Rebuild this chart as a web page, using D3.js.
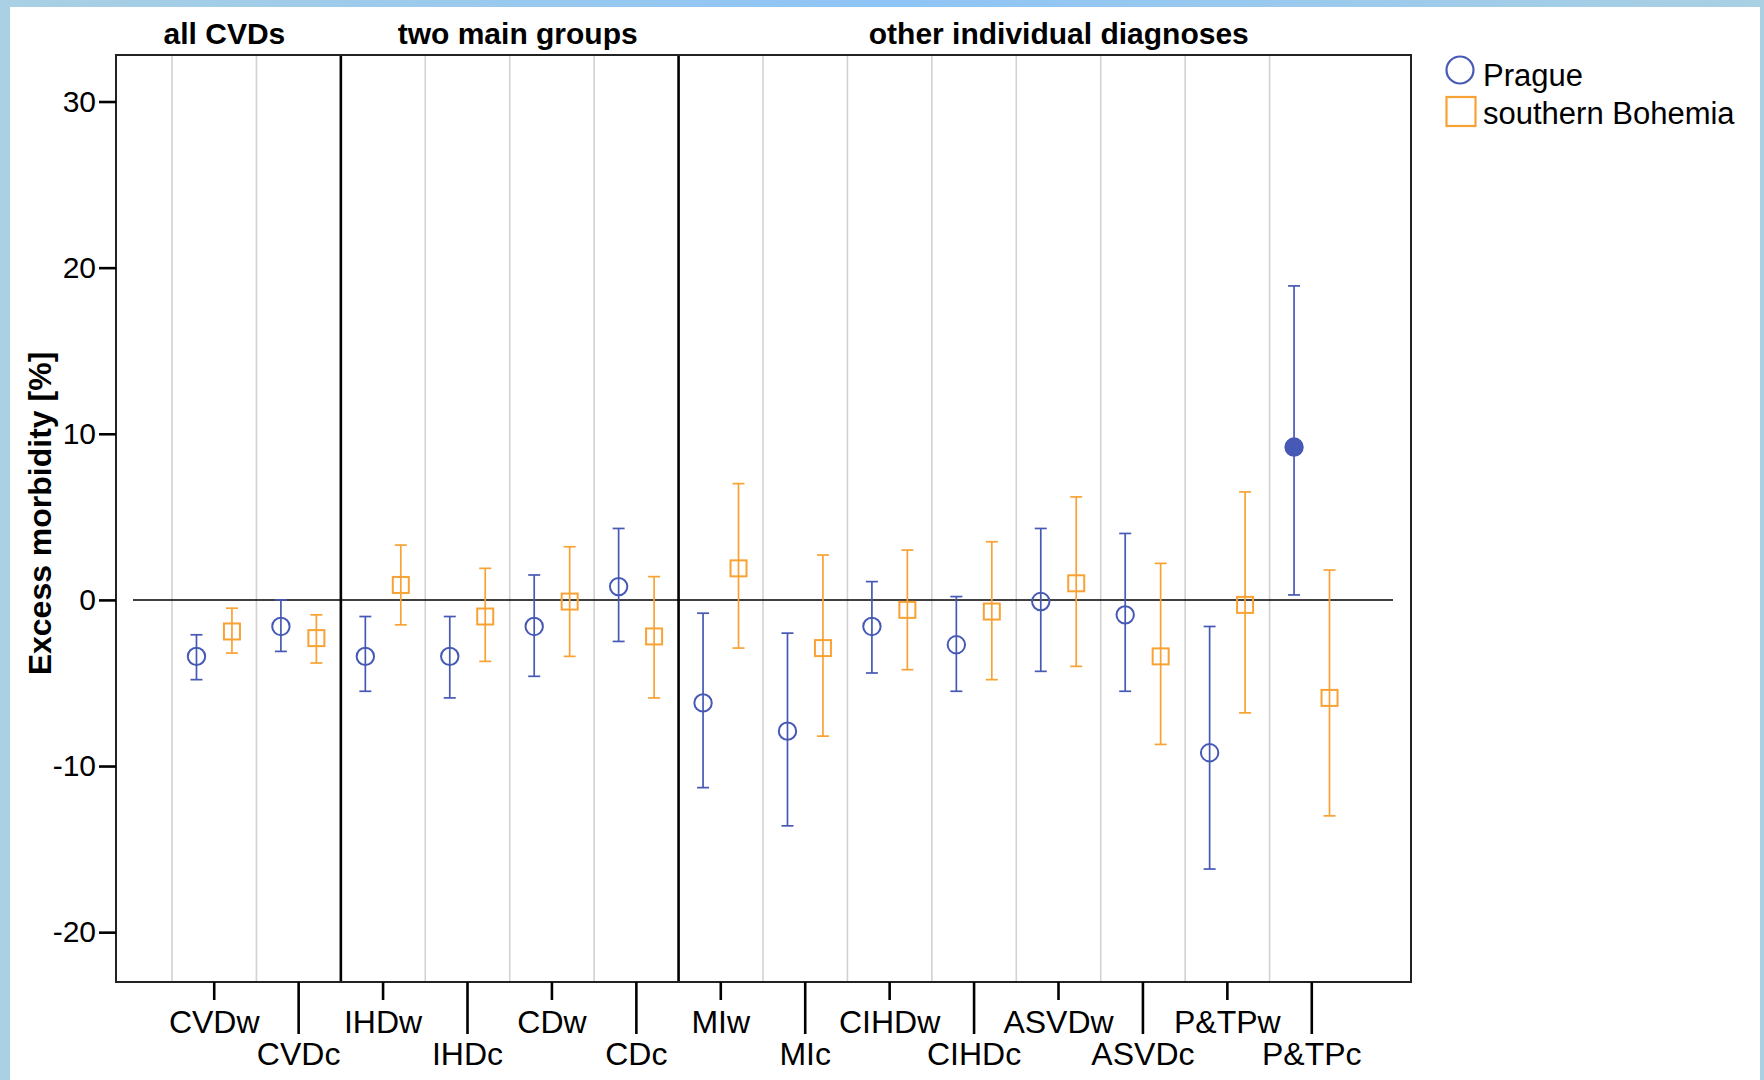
<!DOCTYPE html>
<html>
<head>
<meta charset="utf-8">
<script src="https://cdn.jsdelivr.net/npm/d3@7"></script>
<style>
  body { margin: 0; background: #fff; }
  text { font-family: "Liberation Sans", Arial, sans-serif; fill: #000; }
</style>
</head>
<body>
<svg id="viz"></svg>
<script>
// page size
var width = 1764,
    height = 1080;

// categories along the x axis (w = warm half-year, c = cold half-year)
var categories = ["CVDw", "CVDc", "IHDw", "IHDc", "CDw", "CDc", "MIw", "MIc",
                  "CIHDw", "CIHDc", "ASVDw", "ASVDc", "P&TPw", "P&TPc"];

// panel titles and how many categories each one holds
var groupTitles = ["all CVDs", "two main groups", "other individual diagnoses"];
var groupSizes = [2, 4, 8];

// Prague: excess morbidity [%] and 95% interval
var pragueMean = [-3.4, -1.6, -3.4, -3.4, -1.6, 0.8, -6.2, -7.9, -1.6, -2.7, -0.1, -0.9, -9.2, 9.2];
var pragueLow  = [-4.8, -3.1, -5.5, -5.9, -4.6, -2.5, -11.3, -13.6, -4.4, -5.5, -4.3, -5.5, -16.2, 0.3];
var pragueHigh = [-2.1, 0.0, -1.0, -1.0, 1.5, 4.3, -0.8, -2.0, 1.1, 0.2, 4.3, 4.0, -1.6, 18.9];
var pragueSignificant = [false, false, false, false, false, false, false, false,
                         false, false, false, false, false, true];

// southern Bohemia: excess morbidity [%] and 95% interval
var bohemiaMean = [-1.9, -2.3, 0.9, -1.0, -0.1, -2.2, 1.9, -2.9, -0.6, -0.7, 1.0, -3.4, -0.3, -5.9];
var bohemiaLow  = [-3.2, -3.8, -1.5, -3.7, -3.4, -5.9, -2.9, -8.2, -4.2, -4.8, -4.0, -8.7, -6.8, -13.0];
var bohemiaHigh = [-0.5, -0.9, 3.3, 1.9, 3.2, 1.4, 7.0, 2.7, 3.0, 3.5, 6.2, 2.2, 6.5, 1.8];

var yTicks = [-20, -10, 0, 10, 20, 30];
var seriesNames = ["Prague", "southern Bohemia"];

var pragueColor = "#4659b4",
    bohemiaColor = "#f9a234";

// plot frame
var margin = {left: 116, top: 55, right: 353, bottom: 98};
var plotW = width - margin.left - margin.right,
    plotH = height - margin.top - margin.bottom;

var svg = d3.select("#viz").attr("width", width).attr("height", height);

// light blue window frame
var defs = svg.append("defs");
var grad = defs.append("linearGradient").attr("id", "frame");
grad.append("stop").attr("offset", "0%").attr("stop-color", "#a9d0e3");
grad.append("stop").attr("offset", "50%").attr("stop-color", "#8ec4f6");
grad.append("stop").attr("offset", "100%").attr("stop-color", "#a9d0e3");
svg.append("rect").attr("width", width).attr("height", height).attr("fill", "url(#frame)");
svg.append("rect").attr("x", 10).attr("y", 7).attr("width", width - 14).attr("height", height - 7).attr("fill", "#fff");

var g = svg.append("g").attr("transform", "translate(" + margin.left + "," + margin.top + ")");

// scales
var x = d3.scaleBand().domain(categories).range([56, plotW - 57]).padding(0);
var y = d3.scaleLinear().domain([-23, 32.8]).range([plotH, 0]);
var bw = x.bandwidth();
var shift = bw * 0.21;

// group boundaries (index of the first category of each group)
var starts = [0];
groupSizes.forEach(function(s, i) { starts.push(starts[i] + s); });

// gray gridlines at every category boundary
var boundaries = d3.range(categories.length + 1).map(function(i) {
    return i < categories.length ? x(categories[i]) : x(categories[i - 1]) + bw;
});
g.append("g").selectAll("line")
    .data(boundaries.filter(function(d, i) { return starts.indexOf(i) < 0 || i == 0; }))
    .enter().append("line")
    .attr("x1", function(d) { return d; }).attr("x2", function(d) { return d; })
    .attr("y1", 0).attr("y2", plotH)
    .attr("stroke", "#d2d2d2").attr("stroke-width", 1.6);

// black group dividers
var dividers = starts.slice(1, starts.length - 1).map(function(i) { return x(categories[i]); });
g.append("g").selectAll("line")
    .data(dividers)
    .enter().append("line")
    .attr("x1", function(d) { return d; }).attr("x2", function(d) { return d; })
    .attr("y1", 0).attr("y2", plotH)
    .attr("stroke", "#000").attr("stroke-width", 2.6);

// zero reference line
g.append("line")
    .attr("x1", 17).attr("x2", plotW - 18)
    .attr("y1", y(0)).attr("y2", y(0))
    .attr("stroke", "#000").attr("stroke-width", 1.5);

// plot border
g.append("rect")
    .attr("width", plotW).attr("height", plotH)
    .attr("fill", "none").attr("stroke", "#222").attr("stroke-width", 2);

// group titles (small nudges to sit where the original puts them)
var groupX = [0].concat(dividers).concat([plotW]);
var titleNudge = [-4, 8, 14];
g.append("g").selectAll("text")
    .data(groupTitles)
    .enter().append("text")
    .attr("x", function(d, i) { return (groupX[i] + groupX[i + 1]) / 2 + titleNudge[i]; })
    .attr("y", -11)
    .attr("text-anchor", "middle")
    .style("font-size", "30px")
    .style("font-weight", "bold")
    .text(function(d) { return d; });

// y axis
var yAxis = g.append("g")
    .call(d3.axisLeft(y).tickValues(yTicks).tickSize(17).tickPadding(3)
        .tickFormat(function(d) { return String(d); }));
yAxis.select(".domain").remove();
yAxis.selectAll(".tick line").attr("stroke", "#000").attr("stroke-width", 2.6);
yAxis.selectAll(".tick text").style("font-size", "30px").attr("font-family", null);

// y axis title
svg.append("text")
    .attr("transform", "translate(51," + (margin.top + y(5.2)) + ") rotate(-90)")
    .attr("text-anchor", "middle")
    .style("font-size", "32px")
    .style("font-weight", "bold")
    .text("Excess morbidity [%]");

// x axis: ticks alternate short (w) and long (c)
var xAxis = g.append("g")
    .attr("transform", "translate(0," + plotH + ")")
    .call(d3.axisBottom(x).tickSizeOuter(0));
xAxis.select(".domain").remove();
xAxis.selectAll(".tick line")
    .attr("stroke", "#000").attr("stroke-width", 2.6)
    .attr("y2", function(d, i) { return i % 2 == 0 ? 18 : 52; });
xAxis.selectAll(".tick text")
    .attr("font-family", null)
    .style("font-size", "32px")
    .attr("dy", null)
    .attr("y", function(d, i) { return i % 2 == 0 ? 51 : 83; });

// error bars + markers
function drawSeries(mean, low, high, color, offset, shape, filled) {
    var s = g.append("g");
    var items = categories.map(function(c, i) {
        return {c: c, m: mean[i], lo: low[i], hi: high[i], f: filled ? filled[i] : false};
    });
    var cx = function(d) { return x(d.c) + bw / 2 + offset; };
    s.selectAll("line.bar").data(items).enter().append("line")
        .attr("class", "bar")
        .attr("x1", cx).attr("x2", cx)
        .attr("y1", function(d) { return y(d.lo); })
        .attr("y2", function(d) { return y(d.hi); })
        .attr("stroke", color).attr("stroke-width", 1.7);
    ["lo", "hi"].forEach(function(k) {
        s.selectAll("line.cap" + k).data(items).enter().append("line")
            .attr("class", "cap" + k)
            .attr("x1", function(d) { return cx(d) - 6; })
            .attr("x2", function(d) { return cx(d) + 6; })
            .attr("y1", function(d) { return y(d[k]); })
            .attr("y2", function(d) { return y(d[k]); })
            .attr("stroke", color).attr("stroke-width", 1.7);
    });
    if (shape == "circle") {
        s.selectAll("circle").data(items).enter().append("circle")
            .attr("cx", cx).attr("cy", function(d) { return y(d.m); })
            .attr("r", 8.7)
            .attr("fill", function(d) { return d.f ? color : "#fff"; })
            .attr("fill-opacity", function(d) { return d.f ? 1 : 0; })
            .attr("stroke", color).attr("stroke-width", 2);
    } else {
        s.selectAll("rect").data(items).enter().append("rect")
            .attr("x", function(d) { return cx(d) - 8; })
            .attr("y", function(d) { return y(d.m) - 8; })
            .attr("width", 16).attr("height", 16)
            .attr("fill", "none")
            .attr("stroke", color).attr("stroke-width", 2);
    }
}
drawSeries(pragueMean, pragueLow, pragueHigh, pragueColor, -shift, "circle", pragueSignificant);
drawSeries(bohemiaMean, bohemiaLow, bohemiaHigh, bohemiaColor, shift, "square", null);

// legend
var legend = svg.append("g").attr("transform", "translate(1446,54)");
legend.append("circle")
    .attr("cx", 14).attr("cy", 16).attr("r", 13.5)
    .attr("fill", "none").attr("stroke", pragueColor).attr("stroke-width", 2.2);
legend.append("rect")
    .attr("x", 0.5).attr("y", 43).attr("width", 29).attr("height", 29)
    .attr("fill", "none").attr("stroke", bohemiaColor).attr("stroke-width", 2.2);
legend.selectAll("text").data(seriesNames).enter().append("text")
    .attr("x", 37)
    .attr("y", function(d, i) { return 32 + i * 38; })
    .style("font-size", "31px")
    .text(function(d) { return d; });
</script>
</body>
</html>
